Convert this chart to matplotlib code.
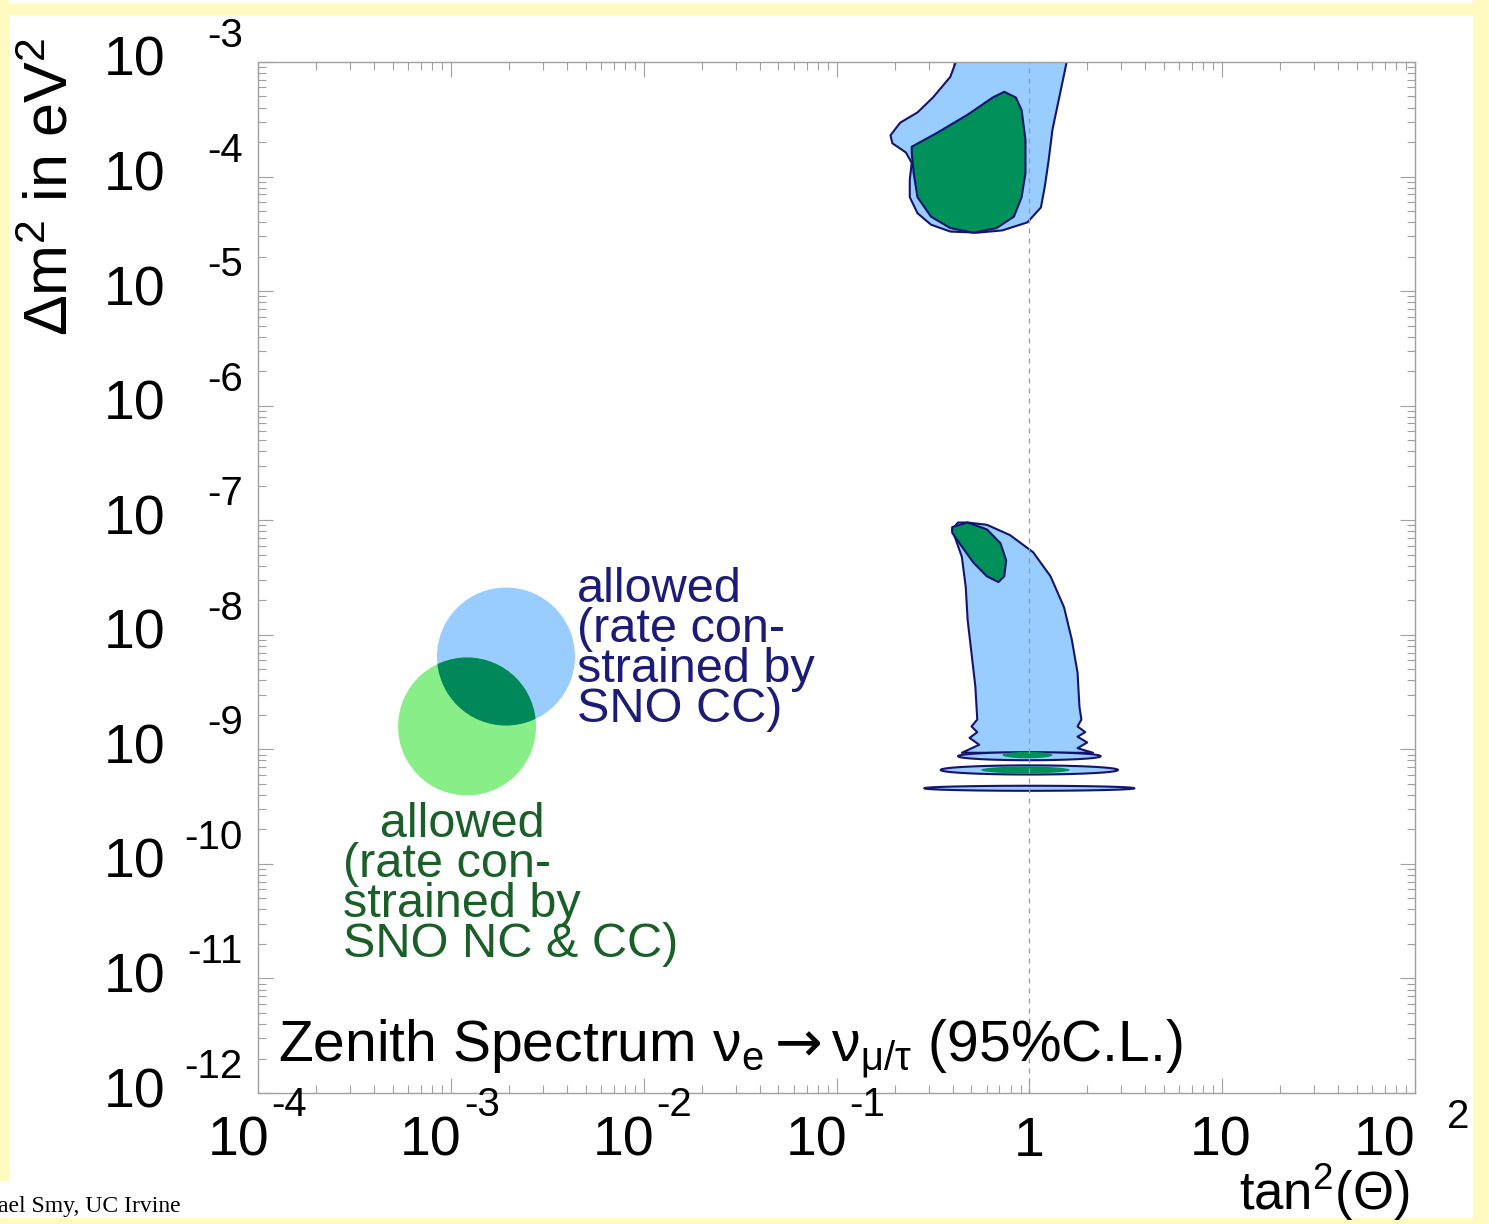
import numpy as np
import matplotlib
matplotlib.use("Agg")
import matplotlib.pyplot as plt
import matplotlib.transforms as mtransforms
from matplotlib.patches import Circle, Rectangle

plt.rcParams['font.family'] = ['Liberation Sans', 'DejaVu Sans']
plt.rcParams['mathtext.fontset'] = 'custom'
plt.rcParams['mathtext.rm'] = 'Liberation Sans'
plt.rcParams['mathtext.it'] = 'Liberation Sans:italic'
plt.rcParams['mathtext.bf'] = 'Liberation Sans:bold'
plt.rcParams['mathtext.sf'] = 'DejaVu Sans'

# allowed regions, stored as log10(tan^2) / log10(dm^2)
lma_outer_x = [-0.37, -0.41, -0.50, -0.58, -0.67, -0.72, -0.71, -0.64, -0.61, -0.62, -0.62,
               -0.58, -0.51, -0.41, -0.27, -0.14, -0.01, 0.06, 0.08, 0.10, 0.12, 0.16, 0.20]
lma_outer_y = [-2.95, -3.13, -3.31, -3.44, -3.53, -3.64, -3.71, -3.79, -3.88, -4.03, -4.18,
               -4.32, -4.42, -4.48, -4.49, -4.47, -4.40, -4.27, -4.09, -3.86, -3.59, -3.27, -2.95]
lma_inner_x = [-0.61, -0.48, -0.32, -0.19, -0.13, -0.07, -0.04, -0.02, -0.02, -0.04, -0.08,
               -0.17, -0.29, -0.41, -0.51, -0.58, -0.60, -0.61]
lma_inner_y = [-3.74, -3.62, -3.46, -3.31, -3.26, -3.31, -3.42, -3.68, -3.97, -4.18, -4.35,
               -4.45, -4.49, -4.45, -4.35, -4.18, -3.97, -3.79]

low_outer_x = [-0.40, -0.37, -0.32, -0.22, -0.10, 0.02, 0.11, 0.18, 0.22, 0.25, 0.26, 0.27,
               0.25, 0.29, 0.25, 0.30, 0.25, 0.33, -0.35, -0.26, -0.31, -0.27, -0.30, -0.27,
               -0.28, -0.30, -0.32, -0.33, -0.35]
low_outer_y = [-7.08, -7.02, -7.02, -7.04, -7.13, -7.28, -7.49, -7.76, -8.04, -8.33, -8.63, -8.74,
               -8.80, -8.85, -8.89, -8.94, -8.99, -9.03, -9.03, -8.96, -8.90, -8.85, -8.80, -8.74,
               -8.45, -8.16, -7.87, -7.58, -7.32]
low_inner_x = [-0.40, -0.32, -0.22, -0.15, -0.12, -0.13, -0.16, -0.22, -0.29, -0.35, -0.40]
low_inner_y = [-7.06, -7.02, -7.08, -7.20, -7.35, -7.49, -7.54, -7.49, -7.37, -7.23, -7.11]

# thin vacuum bands: centre and half sizes (log10 units)
band_cx = [0.0, 0.0, 0.0]
band_cy = [-9.06, -9.18, -9.34]
band_hx = [0.37, 0.46, 0.545]
band_hy = [0.035, 0.04, 0.022]
band_in_cx = [-0.01, -0.02]
band_in_cy = [-9.05, -9.18]
band_in_hx = [0.13, 0.23]
band_in_hy = [0.028, 0.03]

# legend circles (centres in log10 units)
leg_blue = (-2.714, -8.19)
leg_green = (-2.916, -8.80)

x_exps = [-4, -3, -2, -1, 0, 1, 2]
y_exps = [-3, -4, -5, -6, -7, -8, -9, -10, -11, -12]

blue_label = 'allowed\n(rate con-\nstrained by\nSNO CC)'
green_label = '  \u2009allowed\n(rate con-\nstrained by\nSNO NC & CC)'

blue = '#99ccff'
dgreen = '#00905a'
lgreen = '#88ee88'
navy = '#14146e'

W, H = 1489, 1224
fig = plt.figure(figsize=(W / 100, H / 100), dpi=100)
fig.patch.set_facecolor('white')


def fpx(x, y):
    return x / W, 1 - y / H


# yellow page border
for (x0, y0, x1, y1) in [(0, 4, W, 14), (0, 0, 8, 1180), (1473, 0, W, H), (0, 1218, W, H)]:
    fig.patches.append(Rectangle(fpx(x0, y1), (x1 - x0) / W, (y1 - y0) / H,
                                 transform=fig.transFigure, color='#fffac0', zorder=0))

ax = fig.add_axes([258 / W, 1 - 1093 / H, (1415 - 258) / W, (1093 - 62) / H])
ax.set_xscale('log')
ax.set_yscale('log')

kw = dict(edgecolor=navy, lw=1.5, joinstyle='round')
ax.fill(10 ** np.array(lma_outer_x), 10 ** np.array(lma_outer_y), facecolor=blue, zorder=2, **kw)
ax.fill(10 ** np.array(lma_inner_x), 10 ** np.array(lma_inner_y), facecolor=dgreen, zorder=3, **kw)
ax.fill(10 ** np.array(low_outer_x), 10 ** np.array(low_outer_y), facecolor=blue, zorder=2, **kw)
ax.fill(10 ** np.array(low_inner_x), 10 ** np.array(low_inner_y), facecolor=dgreen, zorder=3, **kw)

t = np.linspace(0, 2 * np.pi, 80)
for cx, cy, hx, hy in zip(band_cx, band_cy, band_hx, band_hy):
    ax.fill(10 ** (cx + hx * np.cos(t)), 10 ** (cy + hy * np.sin(t)), facecolor=blue,
            zorder=2, **kw)
for cx, cy, hx, hy in zip(band_in_cx, band_in_cy, band_in_hx, band_in_hy):
    ax.fill(10 ** (cx + hx * np.cos(t)), 10 ** (cy + hy * np.sin(t)), facecolor=dgreen,
            edgecolor='none', zorder=3)

ax.axvline(1.0, color='#9a9a9a', lw=0.9, ls=(0, (4, 4)), zorder=4)

# legend circles with overlap
r = 0.69
tb = fig.dpi_scale_trans + mtransforms.ScaledTranslation(10 ** leg_blue[0], 10 ** leg_blue[1], ax.transData)
tg = fig.dpi_scale_trans + mtransforms.ScaledTranslation(10 ** leg_green[0], 10 ** leg_green[1], ax.transData)
cb = Circle((0, 0), r, transform=tb, facecolor=blue, edgecolor='none', zorder=2)
cg = Circle((0, 0), r, transform=tg, facecolor=lgreen, edgecolor='none', zorder=2)
cd = Circle((0, 0), r, transform=tg, facecolor='#00885a', edgecolor='none', zorder=3)
ax.add_artist(cb)
ax.add_artist(cg)
ax.add_artist(cd)
cd.set_clip_path(cb)

ax.set_xlim(1e-4, 1e2)
ax.set_ylim(1e-12, 1e-3)

for s in ax.spines.values():
    s.set_color('#a0a0a0')
    s.set_linewidth(1.0)
ax.tick_params(which='both', direction='in', top=True, right=True, color='#a0a0a0',
               labelbottom=False, labelleft=False)
ax.tick_params(which='major', length=11, width=0.8)
ax.tick_params(which='minor', length=6, width=0.8)
ax.xaxis.set_major_locator(matplotlib.ticker.LogLocator(base=10, numticks=20))
ax.xaxis.set_minor_locator(matplotlib.ticker.LogLocator(base=10, subs=np.arange(2, 10), numticks=20))
ax.yaxis.set_major_locator(matplotlib.ticker.LogLocator(base=10, numticks=20))
ax.yaxis.set_minor_locator(matplotlib.ticker.LogLocator(base=10, subs=np.arange(2, 10), numticks=20))

# tick labels, "10" with a raised exponent
ytr = mtransforms.blended_transform_factory(fig.transFigure, ax.transData)
for e in y_exps:
    ax.text(165 / W, 10.0 ** e, '10', transform=ytr, ha='right', va='center', fontsize=40)
    ax.text(243 / W, 10.0 ** e, '-%d' % -e, ha='right', va='baseline', fontsize=29,
            transform=mtransforms.offset_copy(ytr, fig, y=15, units='dots'))

xtr = mtransforms.blended_transform_factory(ax.transData, fig.transFigure)
yb = 1 - 1156 / H
ye = 1 - 1116 / H
for e in x_exps:
    v = 10.0 ** e
    if e < 0:
        ax.text(v, yb, '10', ha='right', va='baseline', fontsize=40,
                transform=mtransforms.offset_copy(xtr, fig, x=11, units='dots'))
        ax.text(v, ye, '-%d' % -e, ha='left', va='baseline', fontsize=29,
                transform=mtransforms.offset_copy(xtr, fig, x=13, units='dots'))
    elif e == 0:
        ax.text(v, yb, '1', ha='center', va='baseline', fontsize=40, transform=xtr)
    elif e == 1:
        ax.text(v, yb, '10', ha='center', va='baseline', fontsize=40,
                transform=mtransforms.offset_copy(xtr, fig, x=-2, units='dots'))
    else:
        ax.text(v, yb, '10', ha='right', va='baseline', fontsize=40, transform=xtr)
        ax.text(v, 1 - 1128 / H, '%d' % e, ha='left', va='baseline', fontsize=29,
                transform=mtransforms.offset_copy(xtr, fig, x=32, units='dots'))

# axis titles
fig.text(*fpx(52, 38), r'$\Delta$m$^{2}$ in eV$^{2}$', rotation=90, ha='center', va='top',
         fontsize=44)
fig.text(*fpx(1410, 1210), r'tan$^{2}$($\Theta$)', ha='right', va='baseline', fontsize=38)

fig.text(*fpx(278, 1062),
         r'Zenith Spectrum $\mathrm{\nu_{e}}\mathsf{\rightarrow}\mathrm{\nu_{\mu/\tau}}$ (95%C.L.)',
         ha='left', va='baseline', fontsize=41)

# legend labels
fig.text(*fpx(577, 567), blue_label, ha='left', va='top', fontsize=35, color='#1c1c78',
         linespacing=0.86)
fig.text(*fpx(343, 802), green_label, ha='left', va='top', fontsize=35, color='#1a5e28',
         linespacing=0.86)

fig.text(*fpx(-2, 1212), 'ael Smy, UC Irvine', family='Liberation Serif', fontsize=17,
         ha='left', va='baseline')

fig.savefig('out.png', dpi=100)
